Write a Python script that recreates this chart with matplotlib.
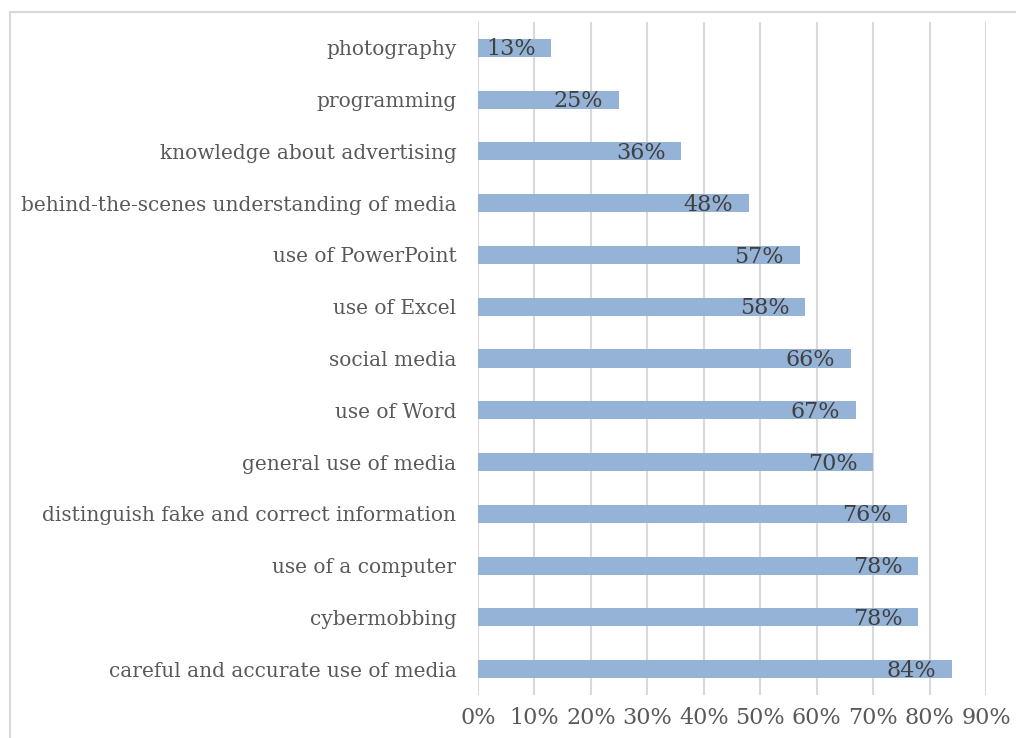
import matplotlib
matplotlib.use("Agg")
import matplotlib.pyplot as plt
from matplotlib.patches import Rectangle
from matplotlib.ticker import FuncFormatter

categories = [
    "photography",
    "programming",
    "knowledge about advertising",
    "behind-the-scenes understanding of media",
    "use of PowerPoint",
    "use of Excel",
    "social media",
    "use of Word",
    "general use of media",
    "distinguish fake and correct information",
    "use of a computer",
    "cybermobbing",
    "careful and accurate use of media",
]
values = [13, 25, 36, 48, 57, 58, 66, 67, 70, 76, 78, 78, 84]
xticks = [0, 10, 20, 30, 40, 50, 60, 70, 80, 90]

plt.rcParams['font.family'] = ['DejaVu Serif']

fig = plt.figure(figsize=(10.16, 7.38), dpi=100)
fig.patch.set_facecolor('white')
# outer frame (extends off right/bottom like the reference crop)
fig.add_artist(Rectangle((10/1016, -0.1), 1.2, 1 - 12/738 + 0.1,
                         transform=fig.transFigure, fill=False,
                         edgecolor='#d9d9d9', linewidth=1.5, clip_on=False))

ax = fig.add_axes([478/1016, 1 - 695/738, 508/1016, (695 - 22)/738])
ypos = list(range(len(categories)))
ax.barh(ypos, values, height=0.35, color='#95b3d7', zorder=3)
ax.set_ylim(len(categories) - 0.5, -0.5)
ax.set_xlim(0, 90)
ax.set_xticks(xticks)
ax.xaxis.set_major_formatter(FuncFormatter(lambda v, p: f"{int(v)}%"))
ax.set_yticks(ypos)
ax.set_yticklabels(categories)
ax.grid(axis='x', color='#d9d9d9', linewidth=1.5, zorder=0)
for s in ax.spines.values():
    s.set_visible(False)
ax.tick_params(axis='y', length=0, pad=15.5, labelsize=14.5, labelcolor='#595959')
ax.tick_params(axis='x', length=0, pad=9, labelsize=16, labelcolor='#595959')

for y, v in zip(ypos, values):
    ax.text(v - 2.8, y + 0.03, f"{v}%", ha='right', va='center',
            fontsize=16, color='#404040', zorder=4)

fig.savefig("out.png", dpi=100)
